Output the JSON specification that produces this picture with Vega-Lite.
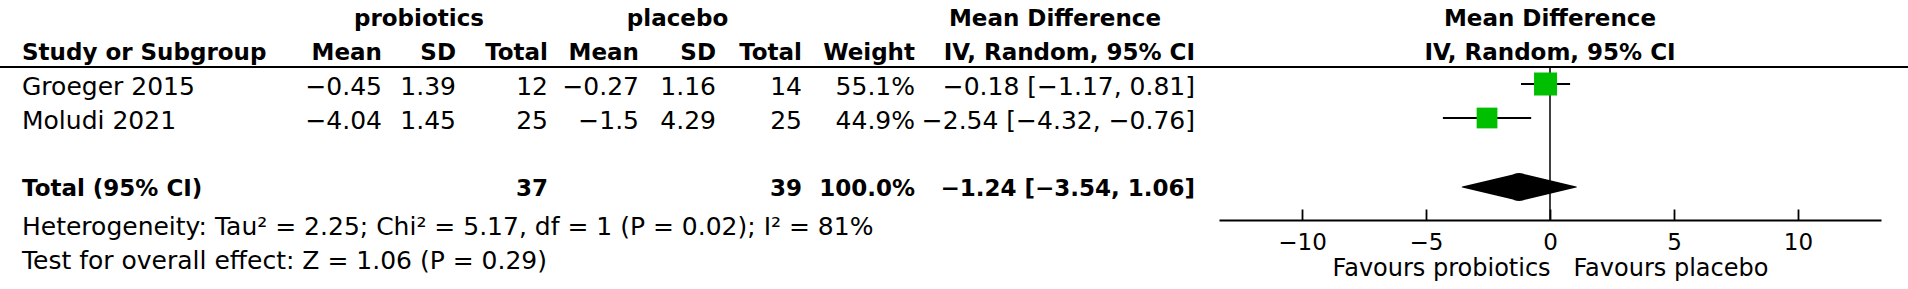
{
  "$schema": "https://vega.github.io/schema/vega-lite/v6.json",
  "width": 1908,
  "height": 289,
  "padding": 0,
  "autosize": {"type": "none"},
  "background": "white",
  "config": {"view": {"stroke": null}, "font": "DejaVu Sans"},
  "datasets": {
    "cells": [
      {"r": "r0", "c": 1.5, "t": "probiotics"},
      {"r": "r0", "c": 4.5, "t": "placebo"},
      {"r": "r0", "c": 7.5, "t": "Mean Difference"},
      {"r": "r1", "c": 0, "t": "Study or Subgroup"},
      {"r": "r1", "c": 1, "t": "Mean"},
      {"r": "r1", "c": 2, "t": "SD"},
      {"r": "r1", "c": 3, "t": "Total"},
      {"r": "r1", "c": 4, "t": "Mean"},
      {"r": "r1", "c": 5, "t": "SD"},
      {"r": "r1", "c": 6, "t": "Total"},
      {"r": "r1", "c": 7, "t": "Weight"},
      {"r": "r1", "c": 8, "t": "IV, Random, 95% CI"},
      {"r": "r2", "c": 0, "t": "Groeger 2015"},
      {"r": "r2", "c": 1, "t": "−0.45"},
      {"r": "r2", "c": 2, "t": "1.39"},
      {"r": "r2", "c": 3, "t": "12"},
      {"r": "r2", "c": 4, "t": "−0.27"},
      {"r": "r2", "c": 5, "t": "1.16"},
      {"r": "r2", "c": 6, "t": "14"},
      {"r": "r2", "c": 7, "t": "55.1%"},
      {"r": "r2", "c": 8, "t": "−0.18 [−1.17, 0.81]"},
      {"r": "r3", "c": 0, "t": "Moludi 2021"},
      {"r": "r3", "c": 1, "t": "−4.04"},
      {"r": "r3", "c": 2, "t": "1.45"},
      {"r": "r3", "c": 3, "t": "25"},
      {"r": "r3", "c": 4, "t": "−1.5"},
      {"r": "r3", "c": 5, "t": "4.29"},
      {"r": "r3", "c": 6, "t": "25"},
      {"r": "r3", "c": 7, "t": "44.9%"},
      {"r": "r3", "c": 8, "t": "−2.54 [−4.32, −0.76]"},
      {"r": "r5", "c": 0, "t": "Total (95% CI)"},
      {"r": "r5", "c": 3, "t": "37"},
      {"r": "r5", "c": 6, "t": "39"},
      {"r": "r5", "c": 7, "t": "100.0%"},
      {"r": "r5", "c": 8, "t": "−1.24 [−3.54, 1.06]"},
      {"r": "r6", "c": 0, "t": "Heterogeneity: Tau² = 2.25; Chi² = 5.17, df = 1 (P = 0.02); I² = 81%"},
      {"r": "r7", "c": 0, "t": "Test for overall effect: Z = 1.06 (P = 0.29)"}
    ],
    "studies": [
      {"study": "Groeger 2015", "r": "r2", "md": -0.18, "lo": -1.17, "hi": 0.81, "w": 55.1},
      {"study": "Moludi 2021", "r": "r3", "md": -2.54, "lo": -4.32, "hi": -0.76, "w": 44.9}
    ],
    "pooled": [
      {"pt": "lower", "md": -3.54},
      {"pt": "est", "md": -1.24},
      {"pt": "upper", "md": 1.06}
    ],
    "fhead": [
      {"r": "r0", "t": "Mean Difference"},
      {"r": "r1", "t": "IV, Random, 95% CI"}
    ]
  },
  "resolve": {"scale": {"x": "independent"}},
  "layer": [
    {
      "data": {"name": "cells"},
      "encoding": {
        "x": {"field": "c", "type": "quantitative", "scale": {"type": "linear", "domain": [0, 1, 2, 3, 4, 5, 6, 7, 8], "range": [22, 382, 456, 548, 639, 716, 802, 915, 1195], "nice": false, "zero": false}, "axis": null},
        "y": {"field": "r", "type": "nominal", "scale": {"type": "point", "domain": ["r0", "r1", "r2", "r3", "r4", "r5", "r6", "r7"], "range": [17, 255], "padding": 0}, "axis": null},
        "text": {"field": "t", "type": "nominal"}
      },
      "layer": [
        {"transform": [{"filter": "datum.r == 'r0'"}], "mark": {"type": "text", "align": "center", "baseline": "middle", "fontSize": 23, "fontWeight": "bold", "dy": 2, "color": "black"}},
        {"transform": [{"filter": "(datum.r == 'r1' || datum.r == 'r5') && datum.c > 0"}], "mark": {"type": "text", "align": "right", "baseline": "middle", "fontSize": 23, "fontWeight": "bold", "dy": 2, "color": "black"}},
        {"transform": [{"filter": "(datum.r == 'r1' || datum.r == 'r5') && datum.c == 0"}], "mark": {"type": "text", "align": "left", "baseline": "middle", "fontSize": 23, "fontWeight": "bold", "dy": 2, "color": "black"}},
        {"transform": [{"filter": "(datum.r == 'r2' || datum.r == 'r3') && datum.c > 0"}], "mark": {"type": "text", "align": "right", "baseline": "middle", "fontSize": 25, "dy": 2, "color": "black"}},
        {"transform": [{"filter": "(datum.r == 'r2' || datum.r == 'r3') && datum.c == 0"}], "mark": {"type": "text", "align": "left", "baseline": "middle", "fontSize": 25, "dy": 2, "color": "black"}},
        {"transform": [{"filter": "datum.r == 'r6' || datum.r == 'r7'"}], "mark": {"type": "text", "align": "left", "baseline": "middle", "fontSize": 25, "dy": 6, "color": "black"}}
      ]
    },
    {
      "layer": [
        {
          "data": {"values": [{}]},
          "mark": {"type": "rule", "color": "black", "strokeWidth": 1.8, "yOffset": 16},
          "encoding": {
            "y": {"datum": "r1", "type": "nominal", "scale": {"type": "point", "domain": ["r0", "r1", "r2", "r3", "r4", "r5", "r6", "r7"], "range": [17, 255], "padding": 0}, "axis": null}
          }
        },
        {
          "data": {"values": [{}]},
          "mark": {"type": "rule", "color": "black", "strokeWidth": 1.5, "yOffset": 16, "y2Offset": -1},
          "encoding": {
            "x": {"datum": 0, "type": "quantitative", "scale": {"domain": [-13.35, 13.35], "range": [1219, 1881], "nice": false, "zero": false}, "axis": {"orient": "bottom", "offset": -69, "values": [-10, -5, 0, 5, 10], "format": "d", "grid": false, "domainColor": "black", "domainWidth": 1.8, "tickColor": "black", "tickWidth": 1.8, "tickSize": -11, "labelFont": "DejaVu Sans", "labelFontSize": 23, "labelColor": "black", "labelPadding": 22, "labelFlush": false, "labelOverlap": false, "title": "Favours probiotics\u00a0\u00a0\u00a0Favours placebo", "titleFont": "DejaVu Sans", "titleFontSize": 24, "titleFontWeight": "normal", "titleColor": "black", "titleY": 48, "titleBaseline": "middle"}},
            "y": {"datum": "r1", "type": "nominal", "scale": {"type": "point", "domain": ["r0", "r1", "r2", "r3", "r4", "r5", "r6", "r7"], "range": [17, 255], "padding": 0}, "axis": null},
            "y2": {"datum": "r6"}
          }
        },
        {
          "data": {"name": "studies"},
          "mark": {"type": "rule", "color": "black", "strokeWidth": 2, "yOffset": -1},
          "encoding": {
            "x": {"field": "lo", "type": "quantitative", "scale": {"domain": [-13.35, 13.35], "range": [1219, 1881], "nice": false, "zero": false}, "axis": {"orient": "bottom", "offset": -69, "values": [-10, -5, 0, 5, 10], "format": "d", "grid": false, "domainColor": "black", "domainWidth": 1.8, "tickColor": "black", "tickWidth": 1.8, "tickSize": -11, "labelFont": "DejaVu Sans", "labelFontSize": 23, "labelColor": "black", "labelPadding": 22, "labelFlush": false, "labelOverlap": false, "title": "Favours probiotics\u00a0\u00a0\u00a0Favours placebo", "titleFont": "DejaVu Sans", "titleFontSize": 24, "titleFontWeight": "normal", "titleColor": "black", "titleY": 48, "titleBaseline": "middle"}},
            "x2": {"field": "hi"},
            "y": {"field": "r", "type": "nominal", "scale": {"type": "point", "domain": ["r0", "r1", "r2", "r3", "r4", "r5", "r6", "r7"], "range": [17, 255], "padding": 0}, "axis": null}
          }
        },
        {
          "data": {"name": "studies"},
          "mark": {"type": "point", "shape": "square", "filled": true, "color": "#00bf00", "opacity": 1, "yOffset": -1},
          "encoding": {
            "x": {"field": "md", "type": "quantitative", "scale": {"domain": [-13.35, 13.35], "range": [1219, 1881], "nice": false, "zero": false}, "axis": {"orient": "bottom", "offset": -69, "values": [-10, -5, 0, 5, 10], "format": "d", "grid": false, "domainColor": "black", "domainWidth": 1.8, "tickColor": "black", "tickWidth": 1.8, "tickSize": -11, "labelFont": "DejaVu Sans", "labelFontSize": 23, "labelColor": "black", "labelPadding": 22, "labelFlush": false, "labelOverlap": false, "title": "Favours probiotics\u00a0\u00a0\u00a0Favours placebo", "titleFont": "DejaVu Sans", "titleFontSize": 24, "titleFontWeight": "normal", "titleColor": "black", "titleY": 48, "titleBaseline": "middle"}},
            "y": {"field": "r", "type": "nominal", "scale": {"type": "point", "domain": ["r0", "r1", "r2", "r3", "r4", "r5", "r6", "r7"], "range": [17, 255], "padding": 0}, "axis": null},
            "size": {"field": "w", "type": "quantitative", "scale": {"domain": [0, 100], "range": [0, 960]}, "legend": null}
          }
        },
        {
          "data": {"name": "pooled"},
          "mark": {"type": "trail", "color": "black"},
          "encoding": {
            "x": {"field": "md", "type": "quantitative", "scale": {"domain": [-13.35, 13.35], "range": [1219, 1881], "nice": false, "zero": false}, "axis": {"orient": "bottom", "offset": -69, "values": [-10, -5, 0, 5, 10], "format": "d", "grid": false, "domainColor": "black", "domainWidth": 1.8, "tickColor": "black", "tickWidth": 1.8, "tickSize": -11, "labelFont": "DejaVu Sans", "labelFontSize": 23, "labelColor": "black", "labelPadding": 22, "labelFlush": false, "labelOverlap": false, "title": "Favours probiotics\u00a0\u00a0\u00a0Favours placebo", "titleFont": "DejaVu Sans", "titleFontSize": 24, "titleFontWeight": "normal", "titleColor": "black", "titleY": 48, "titleBaseline": "middle"}},
            "y": {"datum": "r5", "type": "nominal", "scale": {"type": "point", "domain": ["r0", "r1", "r2", "r3", "r4", "r5", "r6", "r7"], "range": [17, 255], "padding": 0}, "axis": null},
            "size": {"condition": {"test": "datum.pt == 'est'", "value": 28}, "value": 0}
          }
        },
        {
          "data": {"name": "fhead"},
          "mark": {"type": "text", "align": "center", "baseline": "middle", "fontSize": 23, "fontWeight": "bold", "dy": 2, "color": "black"},
          "encoding": {
            "x": {"datum": 0, "type": "quantitative", "scale": {"domain": [-13.35, 13.35], "range": [1219, 1881], "nice": false, "zero": false}, "axis": {"orient": "bottom", "offset": -69, "values": [-10, -5, 0, 5, 10], "format": "d", "grid": false, "domainColor": "black", "domainWidth": 1.8, "tickColor": "black", "tickWidth": 1.8, "tickSize": -11, "labelFont": "DejaVu Sans", "labelFontSize": 23, "labelColor": "black", "labelPadding": 22, "labelFlush": false, "labelOverlap": false, "title": "Favours probiotics\u00a0\u00a0\u00a0Favours placebo", "titleFont": "DejaVu Sans", "titleFontSize": 24, "titleFontWeight": "normal", "titleColor": "black", "titleY": 48, "titleBaseline": "middle"}},
            "y": {"field": "r", "type": "nominal", "scale": {"type": "point", "domain": ["r0", "r1", "r2", "r3", "r4", "r5", "r6", "r7"], "range": [17, 255], "padding": 0}, "axis": null},
            "text": {"field": "t", "type": "nominal"}
          }
        }
      ]
    }
  ]
}
